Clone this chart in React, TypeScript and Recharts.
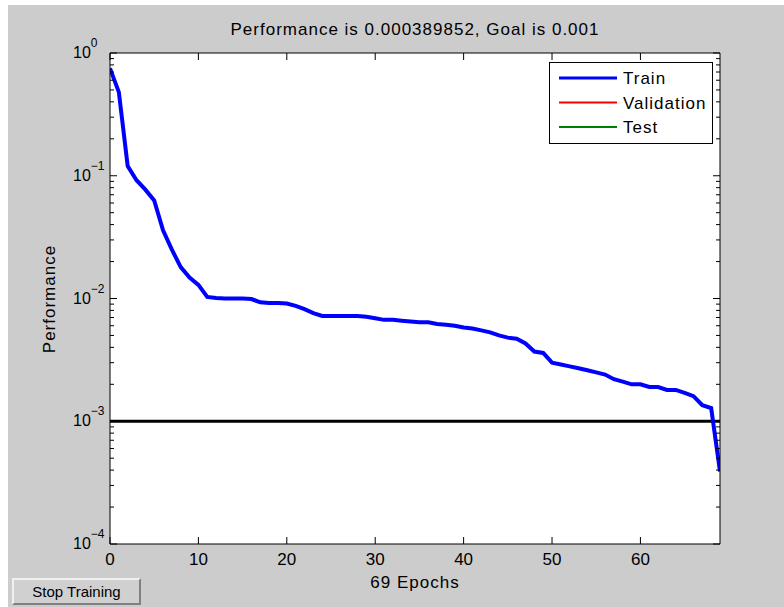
import React from 'react';
import { LineChart, Line, XAxis, YAxis, ReferenceLine } from 'recharts';

// training performance per epoch (0..69)
const TRAIN_PERF = [
  0.75, 0.48, 0.12, 0.092, 0.077, 0.063, 0.036, 0.025, 0.018, 0.0148,
  0.0129, 0.0103, 0.0101, 0.01, 0.01, 0.01, 0.0099, 0.0093, 0.0092, 0.0092,
  0.0091, 0.0087, 0.0082, 0.0076, 0.0072, 0.0072, 0.0072, 0.0072, 0.0072, 0.0071,
  0.0069, 0.0067, 0.0067, 0.0066, 0.0065, 0.0064, 0.0064, 0.0062, 0.0061, 0.006,
  0.0058, 0.0057, 0.0055, 0.0053, 0.005, 0.0048, 0.0047, 0.0043, 0.0037, 0.0036,
  0.003, 0.0029, 0.0028, 0.0027, 0.0026, 0.0025, 0.0024, 0.0022, 0.0021, 0.002,
  0.002, 0.0019, 0.0019, 0.0018, 0.0018, 0.0017, 0.0016, 0.00135, 0.00128, 0.00039,
];
const GOAL = 0.001;
const X_TICKS = [0, 10, 20, 30, 40, 50, 60];
const DECADES = [-4, -3, -2, -1, 0];
const MINOR_STEPS = [2, 3, 4, 5, 6, 7, 8, 9];
const LEGEND_ITEMS = [
  { name: 'Train', color: '#0000ff', width: 3 },
  { name: 'Validation', color: '#ff0000', width: 2 },
  { name: 'Test', color: '#008000', width: 2 },
];

const data = TRAIN_PERF.map((v, i) => ({ epoch: i, train: v }));

// major + minor log ticks
const Y_TICKS: number[] = [];
DECADES.forEach((d) => {
  Y_TICKS.push(Math.pow(10, d));
  if (d < 0) MINOR_STEPS.forEach((m) => Y_TICKS.push(Number((m * Math.pow(10, d)).toPrecision(3))));
});

const FONT = '"Liberation Sans", Arial, Helvetica, sans-serif';

const isMajor = (v: number) => Math.abs(Math.log10(v) - Math.round(Math.log10(v))) < 1e-6;

const BottomTick = (props: any) => {
  const { x, y, payload } = props;
  return (
    <g>
      <line x1={x} x2={x} y1={y} y2={y - 7} stroke="#000" />
      <text x={x} y={y + 21} textAnchor="middle" fontSize={17} fontFamily={FONT} fill="#000">
        {payload.value}
      </text>
    </g>
  );
};

const TopTick = (props: any) => {
  const { x, y } = props;
  return <line x1={x} x2={x} y1={y} y2={y + 7} stroke="#000" />;
};

const LeftTick = (props: any) => {
  const { x, y, payload } = props;
  const major = isMajor(payload.value);
  const exp = Math.round(Math.log10(payload.value));
  return (
    <g>
      <line x1={x} x2={x + (major ? 7 : 4)} y1={y} y2={y} stroke="#000" />
      {major && (
        <text x={x - 37} y={y + 5} fontSize={16} fontFamily={FONT} fill="#000">
          10
          <tspan dy={-11} fontSize={12}>{exp < 0 ? '\u2212' + Math.abs(exp) : exp}</tspan>
        </text>
      )}
    </g>
  );
};

const RightTick = (props: any) => {
  const { x, y, payload } = props;
  const major = isMajor(payload.value);
  return <line x1={x} x2={x - (major ? 7 : 4)} y1={y} y2={y} stroke="#000" />;
};

const App: React.FC = () => {
  return (
    <div style={{ position: 'absolute', left: 0, top: 0, width: 784, height: 607, background: '#fff', fontFamily: FONT }}>
      <div style={{ position: 'absolute', left: 8, top: 5, width: 776, height: 602, background: '#cccccc' }} />
      {/* plot background */}
      <div style={{ position: 'absolute', left: 110, top: 53, width: 610, height: 491, background: '#fff' }} />

      <div style={{ position: 'absolute', left: 0, top: 0 }}>
        <LineChart width={784} height={607} data={data} margin={{ top: 52, right: 63, bottom: 62, left: 109 }}>
          <XAxis
            dataKey="epoch"
            type="number"
            domain={[0, 69]}
            ticks={X_TICKS}
            interval={0}
            height={1}
            tickSize={0}
            tickMargin={0}
            tick={BottomTick}
            axisLine={{ stroke: '#000' }}
            allowDataOverflow
          />
          <XAxis
            xAxisId="top"
            orientation="top"
            dataKey="epoch"
            type="number"
            domain={[0, 69]}
            ticks={X_TICKS}
            interval={0}
            height={1}
            tickSize={0}
            tickMargin={0}
            tick={TopTick}
            axisLine={{ stroke: '#000' }}
            allowDataOverflow
          />
          <YAxis
            type="number"
            scale="log"
            domain={[0.0001, 1]}
            ticks={Y_TICKS}
            interval={0}
            width={1}
            tickSize={0}
            tickMargin={0}
            tick={LeftTick}
            axisLine={{ stroke: '#000' }}
            allowDataOverflow
          />
          <YAxis
            yAxisId="right"
            orientation="right"
            type="number"
            scale="log"
            domain={[0.0001, 1]}
            ticks={Y_TICKS}
            interval={0}
            width={1}
            tickSize={0}
            tickMargin={0}
            tick={RightTick}
            axisLine={{ stroke: '#000' }}
            allowDataOverflow
          />
          <ReferenceLine y={GOAL} stroke="#000" strokeWidth={3} />
          <Line
            dataKey="train"
            stroke="#0000ff"
            strokeWidth={4}
            dot={false}
            type="linear"
            isAnimationActive={false}
          />
        </LineChart>
      </div>

      {/* title and axis labels */}
      <div style={{ position: 'absolute', left: 110, width: 610, top: 20, textAlign: 'center', fontSize: 17, letterSpacing: 1, lineHeight: '20px' }}>
        Performance is 0.000389852, Goal is 0.001
      </div>
      <div style={{ position: 'absolute', left: 110, width: 610, top: 573, textAlign: 'center', fontSize: 17, letterSpacing: 1, lineHeight: '20px' }}>
        69 Epochs
      </div>
      <svg style={{ position: 'absolute', left: 0, top: 0 }} width={100} height={607}>
        <text x={55} y={299} transform="rotate(-90 55 299)" textAnchor="middle" fontSize={17} letterSpacing={1} fontFamily={FONT} fill="#000">
          Performance
        </text>
      </svg>

      {/* legend */}
      <div style={{ position: 'absolute', left: 549, top: 62, width: 162, height: 80, border: '1px solid #000', background: '#fff' }}>
        <svg width={162} height={80}>
          {LEGEND_ITEMS.map((it, i) => (
            <g key={it.name}>
              <line x1={9} x2={67} y1={15 + i * 24.5} y2={15 + i * 24.5} stroke={it.color} strokeWidth={it.width} />
              <text x={73} y={21 + i * 24.5} fontSize={17} letterSpacing={1} fontFamily={FONT} fill="#000">
                {it.name}
              </text>
            </g>
          ))}
        </svg>
      </div>

      {/* button */}
      <div
        style={{
          position: 'absolute', left: 12, top: 578, width: 125, height: 23,
          background: '#d0d0d0', borderTop: '2px solid #f0f0f0', borderLeft: '2px solid #f0f0f0',
          borderBottom: '2px solid #808080', borderRight: '2px solid #808080',
          fontSize: 15, textAlign: 'center', lineHeight: '23px', color: '#000',
        }}
      >
        Stop Training
      </div>
    </div>
  );
};

export default App;
